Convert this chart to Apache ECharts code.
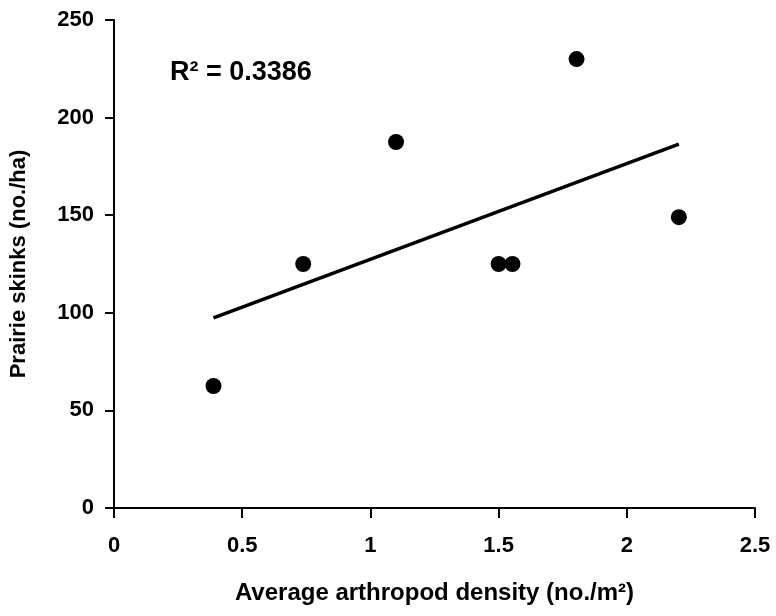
<!DOCTYPE html>
<html><head><meta charset="utf-8">
<script src="https://cdn.jsdelivr.net/npm/echarts@6/dist/echarts.min.js"></script>
<style>html,body{margin:0;padding:0;background:#fff}#c{width:776px;height:616px}</style>
</head><body><div id="c"></div>
<script>
var arthropodDensity = [0.388, 0.738, 1.10, 1.50, 1.554, 1.804, 2.203];
var skinks = [62.5, 125, 187.5, 125, 125, 230, 149];
var xTicks = [0, 0.5, 1, 1.5, 2, 2.5];
var yTicks = [0, 50, 100, 150, 200, 250];
var r2Label = 'R\u00b2 = 0.3386';

var n = arthropodDensity.length, mx = 0, my = 0;
for (var i = 0; i < n; i++) { mx += arthropodDensity[i]; my += skinks[i]; }
mx /= n; my /= n;
var sxy = 0, sxx = 0;
for (i = 0; i < n; i++) { sxy += (arthropodDensity[i]-mx)*(skinks[i]-my); sxx += Math.pow(arthropodDensity[i]-mx,2); }
var slope = sxy/sxx, icpt = my - slope*mx;
var xmin = Math.min.apply(null, arthropodDensity), xmax = Math.max.apply(null, arthropodDensity);
var trend = [[xmin, icpt+slope*xmin],[xmax, icpt+slope*xmax]];
var pts = arthropodDensity.map(function(x,i){return [x, skinks[i]];});

var font = 'Liberation Sans, Arial, sans-serif';
var chart = echarts.init(document.getElementById('c'));
chart.setOption({
  animation: false,
  grid: {left: 114, right: 21, top: 20, bottom: 108},
  xAxis: {
    type: 'value', min: 0, max: 2.5, interval: 0.5,
    splitLine: {show: false},
    axisLine: {lineStyle: {color: '#000', width: 2}},
    axisTick: {lineStyle: {color: '#000', width: 2}, length: 10},
    axisLabel: {color: '#000', fontFamily: font, fontWeight: 'bold', fontSize: 22, margin: 27,
      formatter: function(v){ return xTicks.indexOf(v) >= 0 ? String(v) : ''; }},
    name: 'Average arthropod density (no./m\u00b2)', nameLocation: 'middle', nameGap: 73,
    nameTextStyle: {color: '#000', fontFamily: font, fontWeight: 'bold', fontSize: 24}
  },
  yAxis: {
    type: 'value', min: 0, max: 250, interval: 50,
    splitLine: {show: false},
    axisLine: {show: true, lineStyle: {color: '#000', width: 2}},
    axisTick: {show: true, lineStyle: {color: '#000', width: 2}, length: 9},
    axisLabel: {color: '#000', fontFamily: font, fontWeight: 'bold', fontSize: 22, margin: 20,
      formatter: function(v){ return yTicks.indexOf(v) >= 0 ? String(v) : ''; }},
    name: 'Prairie skinks (no./ha)', nameLocation: 'middle', nameGap: 84,
    nameTextStyle: {color: '#000', fontFamily: font, fontWeight: 'bold', fontSize: 22}
  },
  graphic: [{
    type: 'text', left: 170, top: 59,
    style: {text: r2Label, fill: '#000', font: 'bold 27px ' + font}
  }],
  series: [
    {type: 'line', data: trend, symbol: 'none', lineStyle: {color: '#000', width: 3.5}, z: 2},
    {type: 'scatter', data: pts, symbol: 'circle', symbolSize: 16, itemStyle: {color: '#000', opacity: 1}, z: 3}
  ]
});
</script></body></html>
